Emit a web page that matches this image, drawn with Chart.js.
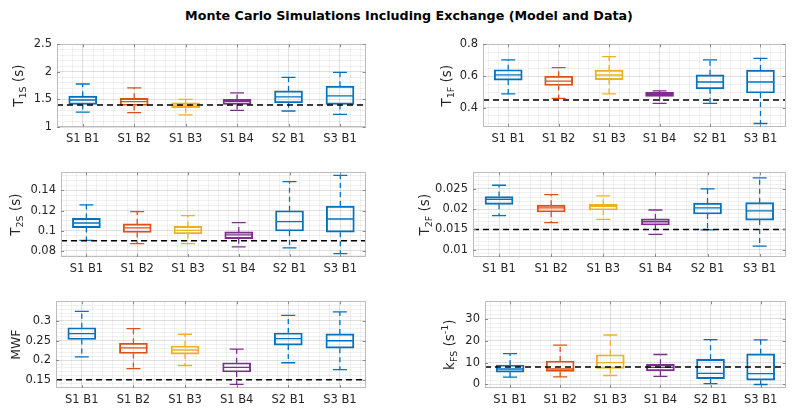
<!DOCTYPE html>
<html><head><meta charset="utf-8">
<script src="https://cdn.jsdelivr.net/npm/chart.js@4.4.1/dist/chart.umd.min.js"></script>
<style>
html,body{margin:0;padding:0;background:#fff;}
body{width:800px;height:412px;position:relative;overflow:hidden;font-family:'DejaVu Sans',sans-serif;}
#title{position:absolute;left:0;top:8px;width:818px;text-align:center;font-weight:bold;font-size:12.7px;line-height:16px;color:#000;white-space:nowrap;}
.panel{position:absolute;}
</style></head><body>
<div id="title">Monte Carlo Simulations Including Exchange (Model and Data)</div>
<script>
// ---------------- data ----------------
const categories = ['S1 B1','S1 B2','S1 B3','S1 B4','S2 B1','S3 B1'];
const boxColors = ['#0072BD','#D95319','#EDB120','#7E2F8E','#0072BD','#0072BD'];

// T1S (s)
const t1sMax = [1.78, 1.71, 1.50, 1.62, 1.90, 1.99];
const t1sQ3  = [1.56, 1.52, 1.44, 1.50, 1.655, 1.74];
const t1sMed = [1.49, 1.46, 1.395, 1.465, 1.547, 1.563];
const t1sQ1  = [1.41, 1.39, 1.35, 1.41, 1.44, 1.41];
const t1sMin = [1.27, 1.26, 1.22, 1.30, 1.29, 1.23];
const t1sRef = 1.4;
const t1sTicks = [1, 1.5, 2, 2.5];

// T1F (s)
const t1fMax = [0.702, 0.653, 0.723, 0.507, 0.702, 0.712];
const t1fQ3  = [0.640, 0.599, 0.638, 0.498, 0.608, 0.638];
const t1fMed = [0.608, 0.569, 0.607, 0.486, 0.563, 0.563];
const t1fQ1  = [0.575, 0.541, 0.578, 0.473, 0.520, 0.494];
const t1fMin = [0.488, 0.460, 0.488, 0.428, 0.428, 0.302];
const t1fRef = 0.45;
const t1fTicks = [0.4, 0.6, 0.8];

// T2S (s)
const t2sMax = [0.1257, 0.119, 0.115, 0.108, 0.1488, 0.1549];
const t2sQ3  = [0.1123, 0.1068, 0.1044, 0.0989, 0.1199, 0.1245];
const t2sMed = [0.1077, 0.1029, 0.1004, 0.0959, 0.109, 0.1117];
const t2sQ1  = [0.1032, 0.0983, 0.0971, 0.0922, 0.0998, 0.0986];
const t2sMin = [0.0904, 0.0873, 0.0873, 0.084, 0.0831, 0.0773];
const t2sRef = 0.09;
const t2sTicks = [0.08, 0.1, 0.12, 0.14];

// T2F (s)
const t2fMax = [0.0259, 0.0236, 0.0233, 0.0198, 0.025, 0.0277];
const t2fQ3  = [0.0231, 0.0210, 0.0212, 0.0176, 0.0215, 0.0216];
const t2fMed = [0.0224, 0.0203, 0.0207, 0.0169, 0.0203, 0.0196];
const t2fQ1  = [0.0212, 0.0193, 0.0198, 0.0161, 0.0188, 0.0173];
const t2fMin = [0.0184, 0.0167, 0.0175, 0.0138, 0.0149, 0.0109];
const t2fRef = 0.015;
const t2fTicks = [0.01, 0.015, 0.02, 0.025];

// MWF
const mwfMax = [0.3245, 0.2803, 0.266, 0.2281, 0.3142, 0.3229];
const mwfQ3  = [0.2826, 0.2431, 0.236, 0.1934, 0.2692, 0.2668];
const mwfMed = [0.2676, 0.2313, 0.2258, 0.1815, 0.255, 0.2494];
const mwfQ1  = [0.2526, 0.217, 0.2155, 0.1697, 0.2384, 0.2305];
const mwfMin = [0.2084, 0.1784, 0.1863, 0.138, 0.1934, 0.176];
const mwfRef = 0.15;
const mwfTicks = [0.15, 0.2, 0.25, 0.3];

// kFS (s^-1)
const kfsMax = [14.1, 18.0, 22.6, 13.7, 20.5, 20.4];
const kfsQ3  = [8.9, 10.75, 13.6, 9.2, 11.5, 14.0];
const kfsMed = [7.07, 7.07, 10.0, 7.8, 5.1, 4.95];
const kfsQ1  = [5.66, 5.94, 7.36, 6.2, 2.7, 1.98];
const kfsMin = [3.4, 3.5, 4.1, 3.7, 0.42, 0.0];
const kfsRef = 8;
const kfsTicks = [0, 10, 20, 30];

// ---------------- layout / style ----------------
Chart.defaults.font.family = "'DejaVu Sans', sans-serif";
Chart.defaults.color = '#262626';

const panels = [
  {stats:[t1sMin,t1sQ1,t1sMed,t1sQ3,t1sMax], ref:t1sRef, majors:t1sTicks, yMin:1, yMax:2.5, minor:0.1,
   label:[{t:'T'},{t:'1S',sub:1},{t:' (s)'}], box:{l:0,t:30,w:380,h:120}, plot:{l:57,t:35,r:372,b:127}, titleX:19},
  {stats:[t1fMin,t1fQ1,t1fMed,t1fQ3,t1fMax], ref:t1fRef, majors:t1fTicks, yMin:0.28, yMax:0.8, minor:0.05,
   label:[{t:'T'},{t:'1F',sub:1},{t:' (s)'}], box:{l:400,t:30,w:400,h:120}, plot:{l:483,t:35,r:790,b:127}, titleX:447},
  {stats:[t2sMin,t2sQ1,t2sMed,t2sQ3,t2sMax], ref:t2sRef, majors:t2sTicks, yMin:0.074, yMax:0.158, minor:0.005,
   label:[{t:'T'},{t:'2S',sub:1},{t:' (s)'}], box:{l:0,t:158,w:380,h:122}, plot:{l:61,t:165,r:372,b:257}, titleX:16},
  {stats:[t2fMin,t2fQ1,t2fMed,t2fQ3,t2fMax], ref:t2fRef, majors:t2fTicks, yMin:0.0082, yMax:0.0291, minor:0.001,
   label:[{t:'T'},{t:'2F',sub:1},{t:' (s)'}], box:{l:400,t:158,w:400,h:122}, plot:{l:473,t:165,r:787,b:257}, titleX:425},
  {stats:[mwfMin,mwfQ1,mwfMed,mwfQ3,mwfMax], ref:mwfRef, majors:mwfTicks, yMin:0.129, yMax:0.35, minor:0.01,
   label:[{t:'MWF',small:1}], box:{l:0,t:287,w:380,h:125}, plot:{l:56,t:294,r:373,b:388}, titleX:17},
  {stats:[kfsMin,kfsQ1,kfsMed,kfsQ3,kfsMax], ref:kfsRef, majors:kfsTicks, yMin:-1.6, yMax:38, minor:2,
   label:[{t:'k'},{t:'FS',sub:1},{t:' (s'},{t:'-1',sup:1},{t:')'}], box:{l:400,t:287,w:400,h:125}, plot:{l:485,t:294,r:790,b:388}, titleX:450}
];

function gridValues(lo, hi, step){
  const out = [];
  const k0 = Math.ceil(lo/step - 1e-9), k1 = Math.floor(hi/step + 1e-9);
  for (let k = k0; k <= k1; k++) out.push(+(k*step).toFixed(10) + 0);
  return out;
}
function isMajor(v, majors, step){ return majors.some(m => Math.abs(m - v) < step*0.01); }

const MAJOR_GRID = 'rgba(0,0,0,0.12)';
const MINOR_GRID = 'rgba(0,0,0,0.055)';

const framePlugin = {
  id:'frame',
  afterDatasetsDraw(chart){
    const {ctx, chartArea:a, scales} = chart;
    ctx.save();
    ctx.strokeStyle = '#bdbdbd';
    ctx.lineWidth = 1;
    ctx.strokeRect(Math.round(a.left)+0.5, Math.round(a.top)+0.5, Math.round(a.right-a.left)-1, Math.round(a.bottom-a.top)-1);
    ctx.strokeStyle = '#8a8a8a';
    ctx.beginPath();
    categories.forEach((c,i)=>{
      const x = Math.round(scales.x.getPixelForValue(i+1))+0.5;
      ctx.moveTo(x, a.bottom); ctx.lineTo(x, a.bottom-3);
      ctx.moveTo(x, a.top); ctx.lineTo(x, a.top+3);
    });
    const p = chart.options.plugins.panelInfo;
    p.majors.forEach(m=>{
      const y = Math.round(scales.y.getPixelForValue(m))+0.5;
      ctx.moveTo(a.left, y); ctx.lineTo(a.left+3, y);
      ctx.moveTo(a.right, y); ctx.lineTo(a.right-3, y);
    });
    ctx.stroke();
    ctx.restore();
  },
  afterDraw(chart){
    const p = chart.options.plugins.panelInfo;
    const ctx = chart.ctx;
    const a = chart.chartArea;
    const big = 13.5, small = 9.5;
    const fontOf = part => (part.sub||part.sup ? small : (part.small ? 12.5 : big)) + "px 'DejaVu Sans', sans-serif";
    ctx.save();
    let total = 0;
    p.label.forEach(part=>{ ctx.font = fontOf(part); part.w = ctx.measureText(part.t).width; total += part.w; });
    const cx = p.titleX - p.box.l;
    const cy = (a.top + a.bottom)/2;
    ctx.translate(cx, cy);
    ctx.rotate(-Math.PI/2);
    ctx.fillStyle = '#262626';
    ctx.textBaseline = 'middle';
    ctx.textAlign = 'left';
    let x = -total/2;
    p.label.forEach(part=>{
      ctx.font = fontOf(part);
      let dy = 0;
      if (part.sub) dy = 4.5;
      if (part.sup) dy = -4.5;
      ctx.fillText(part.t, x, dy);
      x += part.w;
    });
    ctx.restore();
  }
};

panels.forEach((p, pi) => {
  const div = document.createElement('div');
  div.className = 'panel';
  div.style.left = p.box.l + 'px'; div.style.top = p.box.t + 'px';
  div.style.width = p.box.w + 'px'; div.style.height = p.box.h + 'px';
  const cv = document.createElement('canvas');
  cv.width = p.box.w; cv.height = p.box.h;
  cv.style.width = p.box.w + 'px'; cv.style.height = p.box.h + 'px';
  div.appendChild(cv);
  document.body.appendChild(div);

  const [mn, q1, md, q3, mx] = p.stats;
  const xs = categories.map((c,i)=>i+1);
  const whiskUp = [], whiskLo = [];
  xs.forEach((x,i)=>{
    whiskUp.push({x, y:q3[i]}, {x, y:mx[i]}, {x, y:null});
    whiskLo.push({x, y:q1[i]}, {x, y:mn[i]}, {x, y:null});
  });
  const segColor = ctx => boxColors[Math.floor(ctx.p0DataIndex/3)];
  const xGrid = gridValues(0.5, 6.5, 0.2);
  const yGrid = gridValues(p.yMin, p.yMax, p.minor);

  new Chart(cv, {
    type:'bar',
    data:{
      datasets:[
        {type:'line', data:[{x:0.5,y:p.ref},{x:6.5,y:p.ref}], borderColor:'#000', borderWidth:1.5, borderDash:[6,4], pointRadius:0, fill:false},
        {type:'line', data:xs.map((x,i)=>({x, y:md[i]})), showLine:false, pointStyle:'line', pointRadius:13, pointBorderColor:boxColors, pointBorderWidth:1.3, pointHoverRadius:13},
        {type:'line', data:xs.map((x,i)=>({x, y:mx[i]})), showLine:false, pointStyle:'line', pointRadius:7, pointBorderColor:boxColors, pointBorderWidth:1.3, pointHoverRadius:7},
        {type:'line', data:xs.map((x,i)=>({x, y:mn[i]})), showLine:false, pointStyle:'line', pointRadius:7, pointBorderColor:boxColors, pointBorderWidth:1.3, pointHoverRadius:7},
        {type:'bar', data:xs.map((x,i)=>({x, y:[q1[i], q3[i]]})), backgroundColor:'rgba(0,0,0,0)', borderColor:boxColors, borderWidth:1.25, borderSkipped:false, barThickness:28},
        {type:'line', data:whiskUp, borderColor:boxColors[0], borderWidth:1.3, borderDash:[5,4], pointRadius:0, spanGaps:false, segment:{borderColor:segColor}},
        {type:'line', data:whiskLo, borderColor:boxColors[0], borderWidth:1.3, borderDash:[5,4], pointRadius:0, spanGaps:false, segment:{borderColor:segColor}}
      ]
    },
    options:{
      responsive:false, animation:false, events:[],
      layout:{padding:{left:0, top:p.plot.t - p.box.t, right:(p.box.l + p.box.w) - p.plot.r, bottom:0}},
      plugins:{legend:{display:false}, tooltip:{enabled:false}, panelInfo:p},
      scales:{
        x:{
          type:'linear', min:0.5, max:6.5, offset:false,
          afterBuildTicks: s => { s.ticks = xGrid.map(v=>({value:v})); },
          afterFit: s => { s.height = (p.box.t + p.box.h) - p.plot.b; },
          ticks:{autoSkip:false, maxRotation:0, minRotation:0, padding:5, color:'#262626', font:{size:11.5},
            callback: v => { const i = Math.round(v); return (Math.abs(v-i) < 1e-6 && i>=1 && i<=categories.length) ? categories[i-1] : ''; }},
          grid:{offset:false, drawTicks:false, color: c => { const v=c.tick?c.tick.value:0; return Math.abs(v-Math.round(v))<1e-6 ? MAJOR_GRID : MINOR_GRID; }},
          border:{display:false}
        },
        y:{
          type:'linear', min:p.yMin, max:p.yMax, beginAtZero:false,
          afterBuildTicks: s => { s.ticks = yGrid.map(v=>({value:v})); },
          afterFit: s => { s.width = p.plot.l - p.box.l; },
          ticks:{autoSkip:false, padding:5, color:'#262626', font:{size:11.5},
            callback: v => isMajor(v, p.majors, p.minor) ? String(+v.toFixed(6)) : ''},
          grid:{drawTicks:false, color: c => (c.tick && isMajor(c.tick.value, p.majors, p.minor)) ? MAJOR_GRID : MINOR_GRID},
          border:{display:false}
        }
      }
    },
    plugins:[framePlugin]
  });
});
</script>
</body></html>
